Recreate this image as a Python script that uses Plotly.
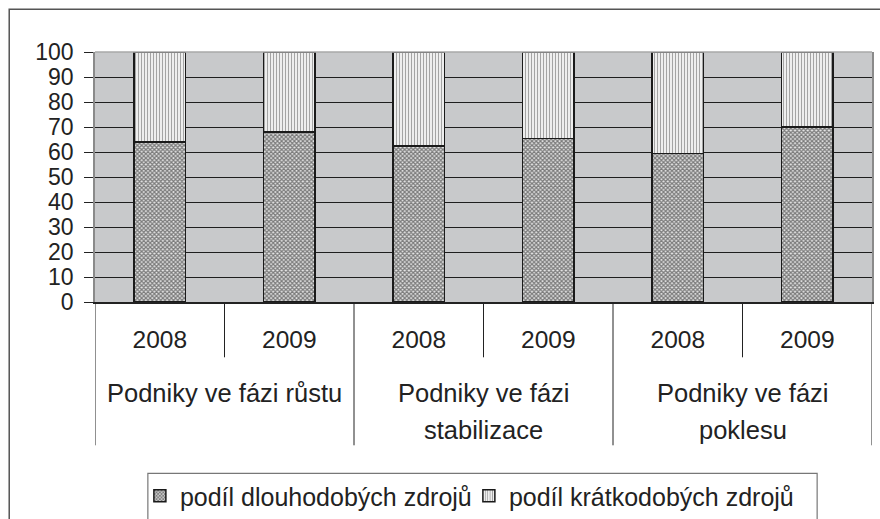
import plotly.graph_objects as go

groups = ["Podniky ve fázi růstu", "Podniky ve fázi<br>stabilizace", "Podniky ve fázi<br>poklesu"]
years = ["2008", "2009", "2008", "2009", "2008", "2009"]
long_term = [64, 68, 62.5, 65.5, 59.5, 70]
short_term = [36, 32, 37.5, 34.5, 40.5, 30]
y_ticks = [0, 10, 20, 30, 40, 50, 60, 70, 80, 90, 100]
series_names = ["podíl dlouhodobých zdrojů", "podíl krátkodobých zdrojů"]

FONT = "Liberation Sans, Arial, sans-serif"
xpos = list(range(len(years)))

fig = go.Figure()
fig.add_trace(go.Bar(
    x=xpos, y=long_term, name=series_names[0], width=0.4,
    marker=dict(color="#e4e4e4", line=dict(color="#1a1a1a", width=1.5),
                pattern=dict(shape="x", fgcolor="#111111", bgcolor="#e4e4e4", size=3, solidity=0.65)),
))
fig.add_trace(go.Bar(
    x=xpos, y=short_term, name=series_names[1], width=0.4,
    marker=dict(color="#eeeeee", line=dict(color="#1a1a1a", width=1.5),
                pattern=dict(shape="|", fgcolor="#5a5a5a", bgcolor="#eeeeee", size=3, solidity=0.35)),
))

shapes = []
H_SHORT = -(358 - 302.7) / 250
H_LONG = -(446 - 302.7) / 250
for i in range(len(years) + 1):
    xb = i - 0.5
    y1 = H_LONG if i % 2 == 0 else H_SHORT
    shapes.append(dict(type="line", xref="x", yref="paper", x0=xb, x1=xb, y0=0, y1=y1,
                       line=dict(color="#222222", width=1)))
shapes.append(dict(type="line", xref="paper", yref="paper", x0=0, x1=1, y0=1, y1=1,
                   line=dict(color="#a8a8a8", width=1.5)))
shapes.append(dict(type="rect", xref="paper", yref="paper",
                   x0=(9 - 95) / 779, x1=(900 - 95) / 779,
                   y0=(302.7 - 10) / 250, y1=(302.7 - 560) / 250,
                   line=dict(color="#555555", width=1.5), layer="below"))
shapes.append(dict(type="rect", xref="paper", yref="paper",
                   x0=(148 - 95) / 779, x1=(819 - 95) / 779,
                   y0=(302.7 - 474) / 250, y1=(302.7 - 560) / 250,
                   line=dict(color="#777777", width=1.2)))

annotations = []
for gi, g in enumerate(groups):
    lines = g.split("<br>")
    ys = [(302.7 - 394) / 250, (302.7 - 431) / 250]
    for li, t in enumerate(lines):
        annotations.append(dict(text=t, x=2 * gi + 0.5, xref="x", y=ys[li], yref="paper",
                                showarrow=False, xanchor="center", yanchor="middle",
                                font=dict(family=FONT, size=25.5, color="#222222")))

fig.update_layout(
    width=880, height=519, autosize=False,
    margin=dict(l=95, r=6, t=52, b=217),
    paper_bgcolor="#ffffff", plot_bgcolor="#c8c9cb",
    barmode="stack", bargap=0.6,
    font=dict(family=FONT, size=22, color="#222222"),
    showlegend=True,
    legend=dict(orientation="h", x=(140 - 95) / 779, xanchor="left",
                yref="container", y=(519 - 496) / 519, yanchor="middle",
                font=dict(family=FONT, size=25, color="#222222"),
                bgcolor="rgba(0,0,0,0)", borderwidth=0, traceorder="normal",
                itemwidth=30, tracegroupgap=0, entrywidth=284, entrywidthmode="pixels"),
    xaxis=dict(range=[-0.5, 5.5], tickmode="array", tickvals=xpos, ticktext=years,
               ticks="", showgrid=False, zeroline=False, showline=True,
               linecolor="#222222", linewidth=1.5, ticklabelstandoff=15,
               tickfont=dict(family=FONT, size=24.5, color="#222222"), fixedrange=True),
    yaxis=dict(range=[0, 100], tickmode="array", tickvals=y_ticks,
               ticks="outside", ticklen=9, tickcolor="#222222", tickwidth=1.2,
               showgrid=True, gridcolor="#1e1e1e", gridwidth=1, zeroline=False,
               showline=True, linecolor="#8a8a8a", linewidth=1.5, mirror=True,
               ticklabelstandoff=6,
               tickfont=dict(family=FONT, size=23, color="#222222"), fixedrange=True),
    shapes=shapes, annotations=annotations,
)

fig.write_html(
    "out.html",
    config={"responsive": False, "displayModeBar": False},
    post_script="document.body.style.margin='0';document.body.style.overflow='hidden';",
)
